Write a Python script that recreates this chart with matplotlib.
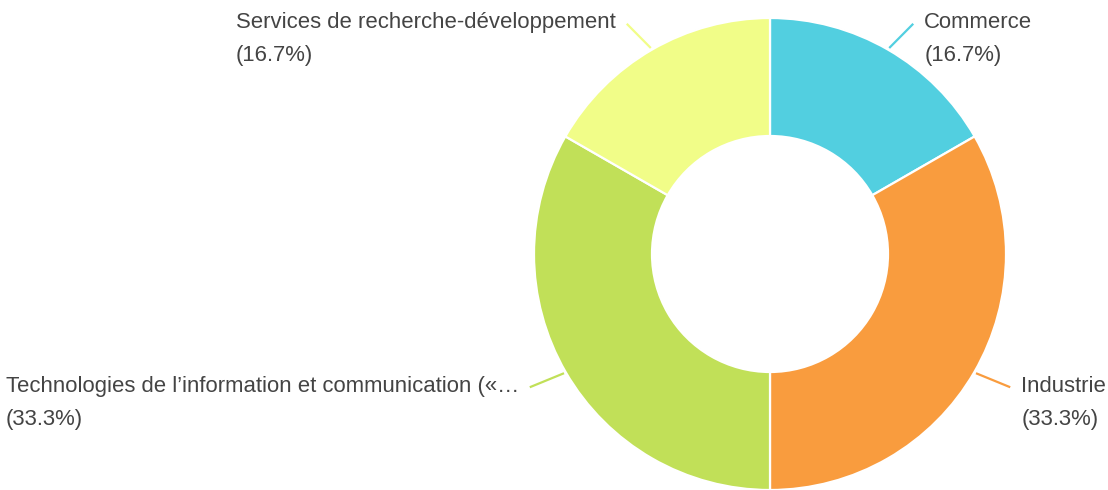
import numpy as np
import matplotlib
matplotlib.use("Agg")
import matplotlib.pyplot as plt

# Sector shares
labels = [
    "Commerce",
    "Industrie",
    "Technologies de l\u2019information et communication (\u00ab\u2026",
    "Services de recherche-d\u00e9veloppement",
]
shares = [16.7, 33.3, 33.3, 16.7]
colors = ["#52CFE0", "#F99C3E", "#C1E058", "#F1FD88"]

W, H = 1108, 490
FS = 15.9
fig = plt.figure(figsize=(W / 100, H / 100), dpi=100)
ax = fig.add_axes([0, 0, 1, 1])

cx, cy, R = 770, 254, 236
wedges, _ = ax.pie(
    shares, colors=colors, center=(cx, cy), radius=R,
    startangle=-90, counterclock=True,
    wedgeprops=dict(width=R * 0.5, edgecolor="white", linewidth=1.6),
)
ax.set_xlim(0, W)
ax.set_ylim(H, 0)
ax.set_aspect("auto")
ax.axis("off")

total = sum(shares)
cum = 0.0
text_color = "#444444"
for lab, val, col in zip(labels, shares, colors):
    mid = (cum + val / 2) / total * 2 * np.pi  # clockwise from top
    cum += val
    dx, dy = np.sin(mid), -np.cos(mid)
    side = 1 if dx >= 0 else -1
    sx, sy = cx + 238 * dx, cy + 238 * dy
    ex, ey = cx + 236 * dx + 30 * dx + 10 * side, cy + 236 * dy + 30 * dy
    ax.plot([sx, ex], [sy, ey], color=col, lw=1.6, solid_capstyle="butt")
    tx = ex + 11 * side
    ha = "left" if side > 0 else "right"
    pct = f"({val:.1f}%)"
    t = ax.text(tx, ey - 1, lab, ha=ha, va="center", fontsize=FS,
                family="Liberation Sans", color=text_color)
    if side > 0:
        x0 = tx
    else:
        # second line aligned with left edge of the first line
        fig.canvas.draw()
        bb = t.get_window_extent().transformed(ax.transData.inverted())
        x0 = min(bb.x0, bb.x1)
    ax.text(x0, ey + 32, pct, ha="left", va="center", fontsize=FS,
            family="Liberation Sans", color=text_color)

fig.savefig("out.png", dpi=100, facecolor="white")
